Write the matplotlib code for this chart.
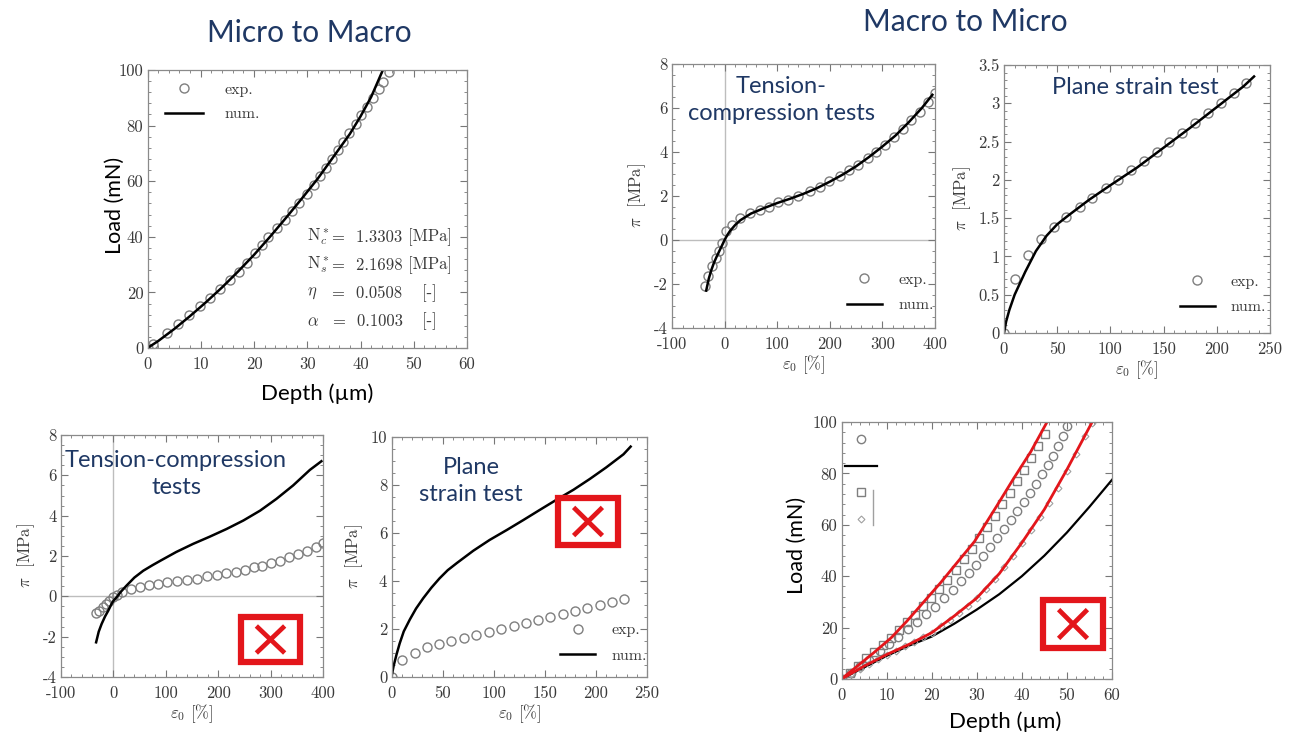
import matplotlib
matplotlib.use("Agg")
import matplotlib.pyplot as plt
from matplotlib.ticker import MultipleLocator, FuncFormatter
from matplotlib.patches import Rectangle
from matplotlib.lines import Line2D

plt.rcParams['font.family'] = 'cmr10'
plt.rcParams['mathtext.fontset'] = 'cm'
plt.rcParams['axes.unicode_minus'] = False
plt.rcParams['axes.formatter.use_mathtext'] = True

# ---------------- data ----------------
# Panel 1 : Micro to Macro, indentation
p1_exp_depth = [0, 1.1, 3.6, 5.8, 7.8, 9.8, 11.7, 13.6, 15.5, 17.1, 18.6, 20.1, 21.5, 22.7, 24.3, 25.8,
                27.1, 28.5, 29.9, 31.2, 32.4, 33.5, 34.6, 35.7, 36.8, 37.9, 39.1, 40.1, 41.2, 42.3, 43.4, 44.3, 45.3]
p1_exp_load = [0, 1.4, 5.4, 8.6, 12, 15, 18, 21.2, 24.4, 27.5, 30.5, 34, 36.9, 40.1, 43.1, 46.1,
               49.3, 52.1, 55.3, 58.7, 61.7, 64.9, 67.9, 71.3, 74, 77.2, 80.5, 83.8, 86.8, 89.8, 93.1, 95.8, 99.4]
p1_num_depth = [0, 2, 5, 8, 11, 14, 17, 20, 23, 26, 29, 32, 35, 38, 40, 42, 44.2]
p1_num_load = [0, 2.5, 6.8, 11.5, 16.5, 21.8, 27.5, 33.5, 40, 46.8, 53.8, 61, 69, 77, 83.3, 90.3, 100]
p1_param_names = [r"$\mathrm{N}_c^*$", r"$\mathrm{N}_s^*$", r"$\eta$", r"$\alpha$"]
p1_param_values = ["1.3303", "2.1698", "0.0508", "0.1003"]
p1_param_units = ["[MPa]", "[MPa]", "[-]", "[-]"]

# Panel 2 : tension-compression (fit)
p2_exp_eps = [-37.8, -30.8, -23.1, -15.4, -10.3, -5.1, 2.6, 13.5, 30.1, 47.4, 68, 84.6, 101.9, 121, 140.4,
              161.5, 180.8, 199.4, 218.6, 236.5, 253.8, 271.8, 287.8, 305.1, 323, 339, 355, 371, 387, 400]
p2_exp_pi = [-2.08, -1.62, -1.2, -0.82, -0.52, -0.14, 0.39, 0.69, 1.0, 1.22, 1.37, 1.52, 1.71, 1.83, 2.01,
             2.21, 2.43, 2.69, 2.92, 3.19, 3.42, 3.75, 4.02, 4.32, 4.70, 5.05, 5.46, 5.84, 6.26, 6.7]
p2_num_eps = [-35, -30, -25, -20, -15, -10, -5, 0, 5, 10, 20, 30, 50, 75, 100, 125, 150, 175, 200, 225,
              250, 275, 300, 325, 350, 375, 395]
p2_num_pi = [-2.3, -1.75, -1.35, -1.02, -0.75, -0.5, -0.25, 0, 0.22, 0.4, 0.68, 0.9, 1.2, 1.45, 1.68, 1.88,
             2.1, 2.35, 2.65, 2.98, 3.35, 3.78, 4.25, 4.75, 5.35, 6.0, 6.6]

# Panel 3 : plane strain (fit)
ps_exp_eps = [0, 10.7, 22.6, 34.5, 46.7, 58.7, 71.2, 83.1, 95.4, 107.3, 119.8, 131.7, 143.4, 155.3,
              167.5, 179.4, 191.3, 203.9, 216.1, 227.4]
ps_exp_pi = [0, 0.71, 1.02, 1.23, 1.38, 1.51, 1.64, 1.76, 1.89, 2.0, 2.13, 2.24, 2.36, 2.49,
             2.61, 2.74, 2.87, 3.0, 3.14, 3.26]
p3_num_eps = [0, 2, 5, 10, 15, 20, 30, 40, 50, 60, 80, 100, 125, 150, 175, 200, 225, 235]
p3_num_pi = [0, 0.15, 0.3, 0.5, 0.65, 0.8, 1.07, 1.27, 1.42, 1.53, 1.74, 1.93, 2.16, 2.42, 2.68, 2.95, 3.22, 3.35]

# Panel 4 : tension-compression (failed)
p4_exp_eps = [-33.3, -27, -20.6, -14.3, -8, -0.3, 6.1, 15.6, 33.4, 50.6, 68.4, 85.6, 102.7, 120.5, 139.6,
              158.6, 177.7, 196.8, 215.8, 233.6, 250.8, 268, 284.5, 301.7, 317.6, 335.4, 352.5, 369.7, 386.2, 400]
p4_exp_pi = [-0.84, -0.71, -0.55, -0.38, -0.25, -0.05, 0.08, 0.23, 0.36, 0.45, 0.56, 0.61, 0.70, 0.75, 0.81,
             0.88, 0.99, 1.08, 1.16, 1.23, 1.31, 1.44, 1.52, 1.64, 1.77, 1.94, 2.1, 2.24, 2.43, 2.62]
p4_num_eps = [-33, -28, -22.5, -16, -10, -4, 0, 6, 15, 25, 40, 57, 75, 90, 120, 152, 184, 216, 248, 280,
              311, 343, 375, 397]
p4_num_pi = [-2.28, -1.75, -1.37, -1.0, -0.72, -0.4, -0.22, -0.05, 0.25, 0.53, 0.93, 1.27, 1.55, 1.77, 2.2,
             2.6, 2.96, 3.34, 3.76, 4.25, 4.83, 5.5, 6.27, 6.7]

# Panel 5 : plane strain (failed)
p5_num_eps = [0, 2, 5, 8, 12, 18, 24, 31, 39, 47, 55, 64, 80, 96, 113, 129, 145, 162, 178, 194, 210, 227, 234]
p5_num_pi = [0, 0.45, 0.95, 1.4, 1.9, 2.4, 2.85, 3.28, 3.72, 4.11, 4.45, 4.75, 5.26, 5.71, 6.13, 6.54,
             6.96, 7.4, 7.8, 8.25, 8.73, 9.28, 9.6]

# Panel 6 : Macro to Micro indentation (failed)
p6_black_depth = [0, 5, 10, 15, 20, 25, 30, 35, 40, 45, 50, 55, 60]
p6_black_load = [0, 4.5, 9, 13, 16.5, 21.5, 27, 33, 40, 48, 57, 67, 77.5]
p6_red1_depth = [0, 3.5, 7, 11, 14.5, 18, 22, 25.5, 29.5, 34.5, 38, 42, 45.6]
p6_red1_load = [0, 5, 10, 16, 22.5, 29.5, 37.5, 45, 53.5, 67.5, 77.5, 88.5, 100]
p6_red2_depth = [0, 5, 10, 15, 20, 25, 30, 35, 40, 45, 50, 55.6]
p6_red2_load = [0, 5, 9.5, 13.5, 18, 24.5, 31.5, 41, 53, 66, 81.5, 100]
p6_sq_depth = [0, 1.8, 3.6, 5.5, 7.3, 9.1, 10.9, 12.7, 14.5, 16.3, 18.1, 19.9, 21.7, 23.5, 25.3, 27.1,
               28.9, 30.6, 32.3, 34, 35.7, 37.3, 38.9, 40.5, 42.1, 43.6, 45.1]
p6_sq_load = [0, 2.5, 5.2, 8, 10.5, 13.2, 15.8, 19, 22, 25, 28.5, 31.5, 35, 38.5, 42.5, 46.5,
              50.5, 55, 59, 63.5, 68, 72.5, 77, 81.5, 86, 90.5, 95.5]
p6_circ_depth = [0, 2, 4, 6, 8.6, 10.6, 12.6, 14.8, 16.8, 18.8, 20.8, 22.8, 24.7, 26.5, 28.2, 29.8, 31.4,
                 33, 34.6, 36.1, 37.6, 39, 40.4, 41.8, 43.1, 44.4, 45.7, 46.9, 48, 49.1, 50.1]
p6_circ_load = [0, 2.5, 5, 7.5, 10.9, 13.5, 16.3, 19.5, 22.3, 25.2, 28.2, 31.4, 34.7, 38, 41.2, 44.5, 48,
                51.4, 55, 58.5, 62, 65.5, 69, 72.5, 76, 79.6, 83.2, 86.8, 90.5, 94.5, 98.6]
p6_dia_depth = [0, 2, 4, 6, 8, 10, 12, 14, 16, 18, 20, 22, 24, 26, 28, 30, 32, 34, 36, 38, 40, 42, 44, 46,
                48, 50, 52, 54, 55.5]
p6_dia_load = [0, 2, 4, 6, 7.6, 9.5, 11, 12.7, 14.3, 16.2, 18, 20.5, 23, 25.7, 28.5, 31.5, 35, 39, 43.5,
               48, 53, 58, 63, 68.5, 74.5, 81, 87.5, 94.5, 99.5]

# ---------------- styling helpers ----------------
W, H = 1291, 736
fig = plt.figure(figsize=(W / 100, H / 100), dpi=100)
fig.patch.set_facecolor('white')

NAVY = '#1F3864'
RED = '#E3161B'
GREY_M = '#7f7f7f'
TICKFS = 12
TXTC = '#3a3a3a'


def ax_at(l, r, t, b):
    return fig.add_axes([l / W, 1 - b / H, (r - l) / W, (b - t) / H])


def fmt(v, p):
    if abs(v) < 1e-9:
        return "0"
    return f"{v:g}"


def style(ax, xlim, ylim, xmaj, xmin, ymaj, ymin):
    ax.set_xlim(*xlim)
    ax.set_ylim(*ylim)
    ax.xaxis.set_major_locator(MultipleLocator(xmaj))
    ax.xaxis.set_minor_locator(MultipleLocator(xmin))
    ax.yaxis.set_major_locator(MultipleLocator(ymaj))
    ax.yaxis.set_minor_locator(MultipleLocator(ymin))
    ax.xaxis.set_major_formatter(FuncFormatter(fmt))
    ax.yaxis.set_major_formatter(FuncFormatter(fmt))
    ax.tick_params(which='both', direction='in', top=True, right=True,
                   color='#777777', labelcolor=TXTC, labelsize=TICKFS)
    ax.tick_params(which='major', length=5, width=0.8)
    ax.tick_params(which='minor', length=2.5, width=0.6)
    ax.tick_params(axis='x', which='major', pad=6)
    ax.tick_params(axis='y', which='major', pad=3)
    for s in ax.spines.values():
        s.set_color('#8a8a8a')
        s.set_linewidth(0.9)


circ_kw = dict(linestyle='none', marker='o', mfc='none', mec=GREY_M, ms=6.5, mew=1.0)
line_kw = dict(color='black', lw=1.8)


def leg(ax, anchor, loc='lower left', hl=2.2):
    ax.legend(loc=loc, bbox_to_anchor=anchor, frameon=False, fontsize=11.5,
              handlelength=hl, handletextpad=1.0, labelspacing=0.7,
              borderpad=0, borderaxespad=0, labelcolor=TXTC)


def pi_labels(ax):
    ax.set_ylabel(r"$\pi$  [MPa]", fontsize=12, color=TXTC)
    ax.set_xlabel(r"$\varepsilon_0$ [%]", fontsize=12, color=TXTC, labelpad=1)


def xbox(x0, y0, x1, y1):
    fig.add_artist(Rectangle((x0 / W, 1 - y1 / H), (x1 - x0) / W, (y1 - y0) / H,
                             transform=fig.transFigure, fc='white', ec=RED, lw=4.5, zorder=10))
    mx = (x1 - x0) * 0.26
    my = (y1 - y0) * 0.2
    for (a, b, c, d) in [(x0 + mx, y0 + my, x1 - mx, y1 - my), (x0 + mx, y1 - my, x1 - mx, y0 + my)]:
        fig.add_artist(Line2D([a / W, c / W], [1 - b / H, 1 - d / H], transform=fig.transFigure,
                              color=RED, lw=3.4, zorder=11, solid_capstyle='butt'))


ANN = dict(fontfamily='Lato', fontsize=17, color=NAVY, ha='center', va='center',
           multialignment='center', linespacing=1.33)

# ---------------- Panel 1 ----------------
ax1 = ax_at(147.5, 467, 70, 348)
style(ax1, (0, 60), (0, 100), 10, 2, 20, 4)
ax1.plot(p1_exp_depth, p1_exp_load, label='exp.', **circ_kw)
ax1.plot(p1_num_depth, p1_num_load, label='num.', **line_kw)
ax1.legend(loc='upper left', bbox_to_anchor=(0.055, 0.955), frameon=False, fontsize=11.5,
           handlelength=2.4, handletextpad=1.3, labelspacing=0.65, borderpad=0,
           borderaxespad=0, labelcolor=TXTC)
for i, yv in enumerate([39.7, 29.7, 19.8, 9.6]):
    ax1.text(30.0, yv, p1_param_names[i], fontsize=12, color=TXTC, va='center', ha='left')
    ax1.text(47.9, yv, r"=  " + p1_param_values[i], fontsize=12, color=TXTC, va='center', ha='right')
    ax1.text(53.0, yv, p1_param_units[i], fontsize=12, color=TXTC, va='center', ha='center')

fig.text(309 / W, 1 - 33 / H, "Micro to Macro", fontfamily='Lato', fontsize=21.5, color=NAVY,
         ha='center', va='center')
fig.text(115 / W, 1 - 205 / H, "Load (mN)", fontfamily='Lato', fontsize=15.5, color='black',
         ha='center', va='center', rotation=90)
fig.text(317 / W, 1 - 394 / H, "Depth (µm)", fontfamily='Lato', fontsize=16, color='black',
         ha='center', va='center')

# ---------------- Panel 2 ----------------
ax2 = ax_at(672, 935, 64, 328)
style(ax2, (-100, 400), (-4, 8), 100, 20, 2, 0.5)
ax2.axvline(0, color='#bdbdbd', lw=1.0, zorder=0)
ax2.axhline(0, color='#bdbdbd', lw=1.0, zorder=0)
ax2.plot(p2_exp_eps, p2_exp_pi, label='exp.', **circ_kw)
ax2.plot(p2_num_eps, p2_num_pi, label='num.', **line_kw)
leg(ax2, (0.665, 0.06))
pi_labels(ax2)
fig.text(965 / W, 1 - 22 / H, "Macro to Micro", fontfamily='Lato', fontsize=21.5, color=NAVY,
         ha='center', va='center')
fig.text(781 / W, 1 - 100 / H, "Tension-\ncompression tests", **ANN)

# ---------------- Panel 3 ----------------
ax3 = ax_at(1004, 1270, 65, 333)
style(ax3, (0, 250), (0, 3.5), 50, 10, 0.5, 0.1)
ax3.plot(ps_exp_eps, ps_exp_pi, label='exp.', **circ_kw)
ax3.plot(p3_num_eps, p3_num_pi, label='num.', **line_kw)
leg(ax3, (0.66, 0.07))
pi_labels(ax3)
fig.text(1135 / W, 1 - 88 / H, "Plane strain test", **ANN)

# ---------------- Panel 4 ----------------
ax4 = ax_at(61, 323, 435, 677)
style(ax4, (-100, 400), (-4, 8), 100, 20, 2, 0.5)
ax4.axvline(0, color='#bdbdbd', lw=1.0, zorder=0)
ax4.axhline(0, color='#bdbdbd', lw=1.0, zorder=0)
ax4.plot(p4_exp_eps, p4_exp_pi, **circ_kw)
ax4.plot(p4_num_eps, p4_num_pi, **line_kw)
pi_labels(ax4)
fig.text(176 / W, 1 - 474 / H, "Tension-compression\ntests", **ANN)
xbox(241, 617, 300, 662)

# ---------------- Panel 5 ----------------
ax5 = ax_at(391.5, 647, 437, 677)
style(ax5, (0, 250), (0, 10), 50, 10, 2, 0.5)
ax5.plot(ps_exp_eps, ps_exp_pi, label='exp.', **circ_kw)
ax5.plot(p5_num_eps, p5_num_pi, label='num.', **line_kw)
leg(ax5, (0.66, 0.06))
pi_labels(ax5)
fig.text(471 / W, 1 - 481 / H, "Plane\nstrain test", **ANN)
xbox(558, 498, 618, 545)

# ---------------- Panel 6 ----------------
ax6 = ax_at(841.5, 1112, 422, 679)
style(ax6, (0, 60), (0, 100), 10, 2, 20, 4)
ax6.plot(p6_circ_depth, p6_circ_load, linestyle='none', marker='o', mfc='none', mec=GREY_M,
         ms=6, mew=1.0, label=' ')
ax6.plot(p6_black_depth, p6_black_load, color='black', lw=1.6, label=' ')
ax6.plot(p6_sq_depth, p6_sq_load, linestyle='none', marker='s', mfc='none', mec=GREY_M,
         ms=5.5, mew=1.0, label=' ')
ax6.plot(p6_dia_depth, p6_dia_load, linestyle='none', marker='D', mfc='none', mec='#a0a0a0',
         ms=3.5, mew=0.8, label=' ')
ax6.plot(p6_red1_depth, p6_red1_load, color=RED, lw=2.0)
ax6.plot(p6_red2_depth, p6_red2_load, color=RED, lw=2.0)
ax6.legend(loc='upper left', bbox_to_anchor=(0.012, 0.955), frameon=False, fontsize=11,
           handlelength=2.1, handletextpad=0.2, labelspacing=0.85, borderpad=0, borderaxespad=0)
ax6.plot([0.118, 0.118], [0.598, 0.734], transform=ax6.transAxes, color='#a0a0a0', lw=1.0)
fig.text(797 / W, 1 - 545 / H, "Load (mN)", fontfamily='Lato', fontsize=15.5, color='black',
         ha='center', va='center', rotation=90)
fig.text(1005 / W, 1 - 722 / H, "Depth (µm)", fontfamily='Lato', fontsize=16, color='black',
         ha='center', va='center')
xbox(1043, 600, 1103, 648)

fig.savefig("out.png", dpi=100, facecolor='white')
